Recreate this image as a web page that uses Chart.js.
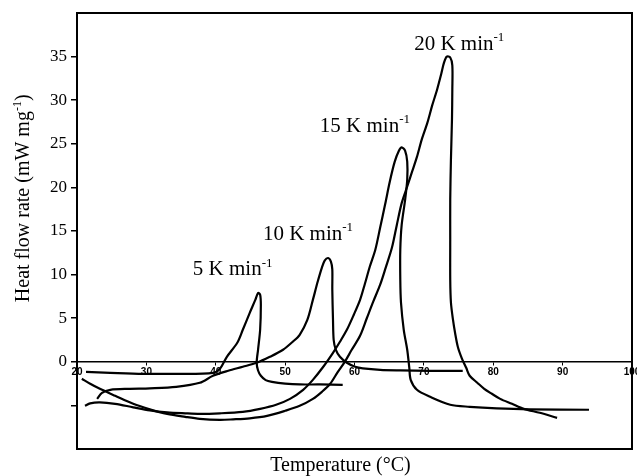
<!DOCTYPE html>
<html>
<head>
<meta charset="utf-8">
<script src="https://cdn.jsdelivr.net/npm/chart.js@4/dist/chart.umd.min.js"></script>
<style>
  html, body { margin: 0; padding: 0; background: #fff; }
  canvas { display: block; }
</style>
</head>
<body>
<canvas id="dsc" width="637" height="476"></canvas>
<script>
// heating rates (K/min) and the traced DSC curves, temperature in °C, heat flow in mW/mg
const rates = ['5', '10', '15', '20'];

const temp5 = [21.3, 24.8, 29.5, 34.8, 39.6, 40.6, 41.6, 43.1, 43.9, 44.9, 45.7, 46.1, 46.4, 46.5, 46.4, 46.1, 45.9, 46.1, 46.5, 47.2, 48.1, 50.0, 52.1, 55.0, 58.3];
const heat5 = [-1.15, -1.26, -1.38, -1.38, -1.26, -0.8, 0.57, 2.18, 3.67, 5.62, 7.1, 7.9, 7.7, 6.5, 3.7, 1.4, -0.1, -1.0, -1.6, -2.1, -2.3, -2.5, -2.6, -2.6, -2.65];

const temp10 = [22.9, 23.6, 24.8, 27.6, 30.5, 34.3, 37.7, 39.6, 41.8, 43.9, 45.9, 47.8, 49.7, 51.1, 52.1, 53.2, 54.0, 54.7, 55.3, 55.7, 56.2, 56.6, 56.8, 56.8, 56.9, 57.0, 57.3, 57.9, 58.9, 60.1, 61.2, 63.7, 66.6, 70.9, 75.6];
const heat10 = [-4.25, -3.56, -3.21, -3.1, -3.04, -2.87, -2.41, -1.61, -1.03, -0.57, -0.11, 0.57, 1.38, 2.3, 3.1, 4.8, 7.1, 9.2, 10.8, 11.6, 11.9, 11.5, 10.6, 8.3, 4.8, 2.5, 1.4, 0.57, -0.11, -0.57, -0.75, -0.92, -0.98, -1.03, -1.03];

const temp15 = [21.15, 21.9, 23.3, 25.5, 28.1, 30.5, 33.0, 35.6, 37.7, 40.6, 43.9, 46.4, 48.7, 50.7, 52.6, 54.0, 55.5, 56.9, 57.9, 58.9, 59.9, 60.8, 61.5, 62.2, 63.0, 63.7, 64.4, 65.1, 65.8, 66.4, 66.8, 67.3, 67.6, 67.6, 67.3, 66.8, 66.6, 66.6, 66.7, 67.1, 67.6, 67.9, 68.1, 69.0, 70.9, 73.8, 76.6, 80.5, 85.3, 93.8];
const heat15 = [-5.05, -4.76, -4.65, -4.82, -5.22, -5.57, -5.8, -5.91, -5.97, -5.91, -5.74, -5.39, -4.93, -4.25, -3.21, -2.07, -0.57, 1.03, 2.3, 3.67, 5.4, 7.1, 8.95, 10.9, 12.85, 15.4, 18.0, 20.7, 22.95, 24.2, 24.6, 24.2, 22.95, 20.9, 18.6, 15.7, 12.85, 9.4, 6.8, 3.67, 1.38, -0.69, -2.07, -3.21, -4.02, -4.93, -5.16, -5.34, -5.45, -5.5];

const temp20 = [20.7, 21.9, 23.3, 25.5, 28.1, 30.5, 33.0, 35.6, 37.7, 40.6, 42.5, 44.9, 47.4, 50.0, 52.1, 54.0, 55.3, 56.5, 57.6, 58.6, 59.6, 60.8, 61.8, 62.7, 63.7, 64.5, 65.4, 66.1, 66.8, 67.6, 68.3, 69.0, 69.7, 70.5, 71.2, 71.9, 72.5, 72.9, 73.3, 73.8, 74.1, 74.1, 74.05, 73.9, 73.8, 73.8, 73.8, 73.9, 74.2, 74.5, 74.9, 75.5, 76.1, 76.6, 77.7, 78.7, 79.8, 81.0, 82.7, 84.4, 86.7, 89.2];
const heat20 = [-1.95, -2.52, -3.1, -3.9, -4.82, -5.45, -5.97, -6.31, -6.54, -6.66, -6.6, -6.48, -6.2, -5.62, -5.05, -4.25, -3.44, -2.52, -1.15, 0, 1.38, 2.98, 5.05, 6.9, 8.84, 10.8, 13.1, 15.7, 18.2, 20.1, 21.8, 23.5, 25.5, 27.4, 29.4, 31.2, 33.0, 34.3, 35.0, 34.9, 34.0, 31.2, 27.8, 23.2, 18.6, 14.0, 9.4, 6.8, 4.8, 3.3, 1.7, 0.34, -0.69, -1.6, -2.4, -3.1, -3.67, -4.25, -4.82, -5.4, -5.85, -6.43];

// axis ticks
const xTicks = [20, 30, 40, 50, 60, 70, 80, 90, 100];
const yTicks = [0, 5, 10, 15, 20, 25, 30, 35];

// where each rate label sits (data units, left end / baseline)
const labelTemp = [36.7, 46.8, 55.0, 68.6];
const labelHeat = [9.9, 14.0, 26.4, 35.8];

const curves = [[temp5, heat5], [temp10, heat10], [temp15, heat15], [temp20, heat20]];

const serif = '"Liberation Serif", "Times New Roman", serif';

function richWidth(ctx, parts, size) {
  let w = 0;
  parts.forEach(p => {
    ctx.font = (p.sup ? Math.round(size * 0.6) : size) + 'px ' + serif;
    w += ctx.measureText(p.t).width;
  });
  return w;
}

function drawRich(ctx, parts, x, y, size) {
  let cx = x;
  parts.forEach(p => {
    ctx.font = (p.sup ? Math.round(size * 0.6) : size) + 'px ' + serif;
    ctx.fillText(p.t, cx, p.sup ? y - size * 0.4 : y);
    cx += ctx.measureText(p.t).width;
  });
}

// frame round the plot area
const frame = {
  id: 'frame',
  afterDraw(chart) {
    const { ctx, chartArea: a } = chart;
    ctx.save();
    ctx.strokeStyle = '#000';
    ctx.lineWidth = 2;
    ctx.strokeRect(a.left, a.top, a.right - a.left, a.bottom - a.top);
    ctx.restore();
  }
};

// rate labels and axis titles
const texts = {
  id: 'texts',
  afterDraw(chart) {
    const { ctx, chartArea: a, scales } = chart;
    ctx.save();
    ctx.fillStyle = '#000';
    ctx.textBaseline = 'alphabetic';
    ctx.textAlign = 'left';
    rates.forEach((r, i) => {
      const px = scales.x.getPixelForValue(labelTemp[i]);
      const py = scales.y.getPixelForValue(labelHeat[i]);
      drawRich(ctx, [{ t: r + ' K min' }, { t: '-1', sup: true }], px, py, 21);
    });

    // x title
    const xt = [{ t: 'Temperature (°C)' }];
    const xw = richWidth(ctx, xt, 20);
    drawRich(ctx, xt, (a.left + a.right) / 2 - 14 - xw / 2, a.bottom + 22, 20);

    // y title
    const yt = [{ t: 'Heat flow rate (mW mg' }, { t: '-1', sup: true }, { t: ')' }];
    const yw = richWidth(ctx, yt, 20);
    ctx.translate(29, a.top + (a.bottom - a.top) * 0.425);
    ctx.rotate(-Math.PI / 2);
    drawRich(ctx, yt, -yw / 2, 0, 20);
    ctx.restore();
  }
};

new Chart(document.getElementById('dsc'), {
  type: 'scatter',
  data: {
    datasets: curves.map((c, i) => ({
      label: rates[i] + ' K min-1',
      data: c[0].map((t, k) => ({ x: t, y: c[1][k] })),
      showLine: true,
      borderColor: '#000',
      borderWidth: 2.2,
      pointRadius: 0,
      tension: 0.3,
      fill: false
    }))
  },
  options: {
    responsive: false,
    animation: false,
    layout: { padding: { top: 13, right: 5, bottom: 27, left: 0 } },
    plugins: { legend: { display: false }, tooltip: { enabled: false } },
    scales: {
      x: {
        type: 'linear',
        min: 20, max: 100,
        position: { y: 0 },
        afterBuildTicks: s => { s.ticks = xTicks.map(v => ({ value: v })); },
        afterFit: s => { s.paddingLeft = 0; s.paddingRight = 0; },
        ticks: {
          color: '#000', padding: 1, maxRotation: 0, autoSkip: false,
          font: { family: '"Liberation Sans", Arial, sans-serif', size: 10, weight: 'bold' }
        },
        grid: { drawOnChartArea: false, drawTicks: true, tickLength: 3, color: '#000', lineWidth: 1 },
        border: { color: '#000', width: 1.5 }
      },
      y: {
        type: 'linear',
        min: -10, max: 40,
        ticks: {
          stepSize: 5, color: '#000', padding: 4,
          callback: v => yTicks.includes(v) ? String(v) : '',
          font: { family: serif, size: 17 }
        },
        afterFit: s => { s.width = 77; s.paddingTop = 0; s.paddingBottom = 0; },
        grid: {
          drawOnChartArea: false, drawTicks: true, tickLength: 6, lineWidth: 1.5,
          color: c => (c.tick && (c.tick.value === 40 || c.tick.value === -10)) ? 'rgba(0,0,0,0)' : '#000'
        },
        border: { color: '#000', width: 2 }
      }
    }
  },
  plugins: [frame, texts]
});
</script>
</body>
</html>
